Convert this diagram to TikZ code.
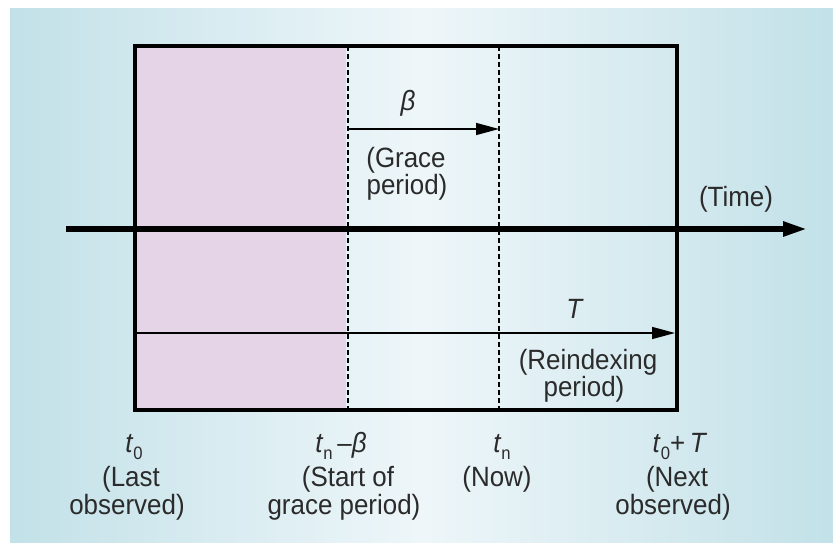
\documentclass[tikz,border=0pt]{standalone}
\usepackage{fontspec}
\setmainfont[FakeStretch=0.93]{Liberation Sans}
\usetikzlibrary{arrows.meta}
\definecolor{bgside}{HTML}{C2E1E8}
\definecolor{bgmid}{HTML}{EEF6F9}
\definecolor{pinkfill}{HTML}{E5D4E7}
\definecolor{txt}{HTML}{2B2B2B}
\newcommand\tsub[1]{\textit{t}\raisebox{-0.26em}{\fontsize{18}{18}\selectfont #1}}
\begin{document}
\begin{tikzpicture}[x=1bp,y=-1bp,
  lbl/.style={inner sep=0pt, outer sep=0pt, text=txt, font=\fontsize{28}{30}\selectfont, anchor=base},
  frame/.style={line width=4bp, black},
  axisline/.style={line width=5.5bp, black, -{Triangle[length=24bp,width=14bp]}},
  dimline/.style={line width=1.5bp, black, -{Triangle[length=23bp,width=12bp]}},
  dashline/.style={line width=1.2bp, black, dash pattern=on 5bp off 3bp}]
\useasboundingbox (0,0) rectangle (833,543);
\fill[white] (0,0) rectangle (833,543);
\shade[left color=bgside, right color=bgside, middle color=bgmid] (10,9) rectangle (833,543);
\fill[pinkfill] (135,46) rectangle (346,410);
% coordinates
\coordinate (tl) at (135,46);
\coordinate (br) at (677,410);
\coordinate (d1t) at (348,46);
\coordinate (d1b) at (348,410);
\coordinate (d2t) at (499,46);
\coordinate (d2b) at (499,410);
\coordinate (ax0) at (66,229);
\coordinate (ax1) at (807,229);
\coordinate (b0) at (348,129);
\coordinate (b1) at (499,129);
\coordinate (T0) at (135,333);
\coordinate (T1) at (675,333);
% lines
\draw[dashline] (d1t) -- (d1b);
\draw[dashline] (d2t) -- (d2b);
\draw[dimline] (b0) -- (b1);
\draw[dimline] (T0) -- (T1);
\draw[axisline] (ax0) -- (ax1);
\draw[frame] (tl) rectangle (br);
% labels
\node[lbl] (beta) at (408,111) {\textit{β}};
\node[lbl] (grace1) at (406,168) {(Grace};
\node[lbl] (grace2) at (407,195) {period)};
\node[lbl] (time) at (736,207) {(Time)};
\node[lbl] (Tlab) at (575,319) {\textit{T}};
\node[lbl] (re1) at (588,369) {(Reindexing};
\node[lbl] (re2) at (584,396) {period)};
\node[lbl] (t0) at (134,452) {\tsub{0}};
\node[lbl] (last1) at (131,486) {(Last};
\node[lbl] (last2) at (127,514) {observed)};
\node[lbl] (tnb) at (341,452) {\tsub{n}\,–\textit{β}};
\node[lbl] (start1) at (348,486) {(Start of};
\node[lbl] (start2) at (344,514) {grace period)};
\node[lbl] (tn) at (502,452) {\tsub{n}};
\node[lbl] (now) at (497,486) {(Now)};
\node[lbl] (t0T) at (680,452) {\tsub{0}+\,\textit{T}};
\node[lbl] (next1) at (677,486) {(Next};
\node[lbl] (next2) at (673,514) {observed)};
\end{tikzpicture}
\end{document}
